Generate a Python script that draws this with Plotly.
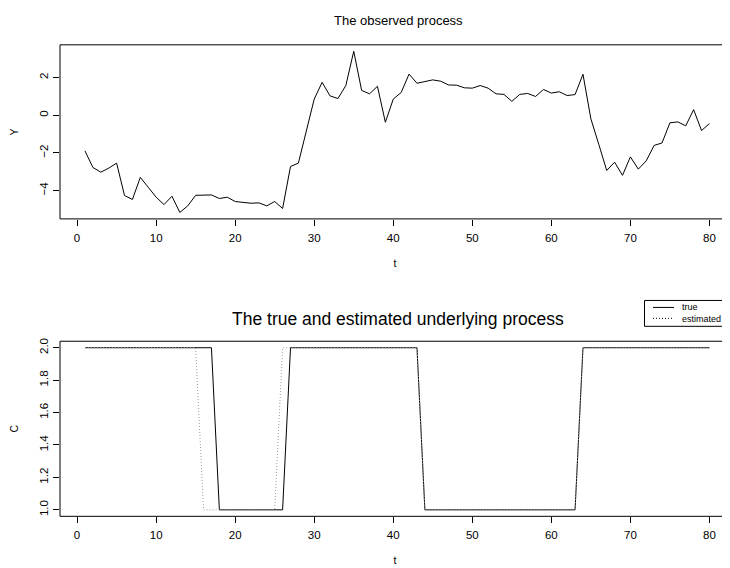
import plotly.graph_objects as go

# ---- data ----
t = list(range(1, 81))
Y_obs = [-1.89, -2.77, -3.02, -2.81, -2.54, -4.26, -4.47, -3.30, -3.82, -4.35,
         -4.74, -4.30, -5.16, -4.81, -4.25, -4.25, -4.23, -4.42, -4.35, -4.58,
         -4.63, -4.67, -4.65, -4.81, -4.58, -4.95, -2.72, -2.54, -0.84, 0.86,
         1.75, 1.03, 0.89, 1.58, 3.40, 1.32, 1.14, 1.54, -0.37, 0.86,
         1.21, 2.19, 1.70, 1.81, 1.88, 1.81, 1.61, 1.60, 1.46, 1.44,
         1.58, 1.44, 1.14, 1.11, 0.74, 1.11, 1.16, 1.00, 1.37, 1.18,
         1.25, 1.05, 1.10, 2.18, -0.19, -1.54, -2.93, -2.49, -3.19, -2.21,
         -2.86, -2.42, -1.60, -1.47, -0.40, -0.35, -0.56, 0.30, -0.81, -0.44]
C_true = [2, 2, 2, 2, 2, 2, 2, 2, 2, 2,
          2, 2, 2, 2, 2, 2, 2, 1, 1, 1,
          1, 1, 1, 1, 1, 1, 2, 2, 2, 2,
          2, 2, 2, 2, 2, 2, 2, 2, 2, 2,
          2, 2, 2, 1, 1, 1, 1, 1, 1, 1,
          1, 1, 1, 1, 1, 1, 1, 1, 1, 1,
          1, 1, 1, 2, 2, 2, 2, 2, 2, 2,
          2, 2, 2, 2, 2, 2, 2, 2, 2, 2]
C_est = [2, 2, 2, 2, 2, 2, 2, 2, 2, 2,
         2, 2, 2, 2, 2, 1, 1, 1, 1, 1,
         1, 1, 1, 1, 1, 2, 2, 2, 2, 2,
         2, 2, 2, 2, 2, 2, 2, 2, 2, 2,
         2, 2, 2, 1, 1, 1, 1, 1, 1, 1,
         1, 1, 1, 1, 1, 1, 1, 1, 1, 1,
         1, 1, 1, 2, 2, 2, 2, 2, 2, 2,
         2, 2, 2, 2, 2, 2, 2, 2, 2, 2]
x_ticks = [0, 10, 20, 30, 40, 50, 60, 70, 80]
y1_ticks = [-4, -2, 0, 2]
y2_ticks = [1.0, 1.2, 1.4, 1.6, 1.8, 2.0]
titles = ["The observed process", "The true and estimated underlying process"]
legend_labels = ["true", "estimated"]

W, H = 730, 568
OFF = 8  # the page body margin shifts the figure by 8px
FONT = "Liberation Sans, Arial, sans-serif"


def px(x):
    return (x - OFF) / W


def py(y):
    return 1 - (y - OFF) / H


def rrange(vals):
    lo, hi = min(vals), max(vals)
    d = (hi - lo) * 0.04
    return [lo - d, hi + d]


fig = go.Figure()
fig.add_trace(go.Scatter(x=t, y=Y_obs, mode="lines", line=dict(color="black", width=1),
                         xaxis="x", yaxis="y", showlegend=False))
fig.add_trace(go.Scatter(x=t, y=C_true, mode="lines", line=dict(color="black", width=1),
                         xaxis="x2", yaxis="y2", showlegend=False, name="true"))
fig.add_trace(go.Scatter(x=t, y=C_est, mode="lines",
                         line=dict(color="#9a9a9a", width=1, dash="1px,2px"),
                         xaxis="x2", yaxis="y2", showlegend=False, name="estimated"))

xr = [-2.16, 82.6]
top_dom = [py(217), py(42)]
bot_dom = [py(516), py(340)]

common_x = dict(range=xr, tickvals=x_ticks, ticks="outside", ticklen=6, tickcolor="black",
                showline=False, showgrid=False, zeroline=False, ticklabelstandoff=2,
                tickfont=dict(family=FONT, size=11.5, color="black"),
                domain=[px(60), px(730)])
common_y = dict(ticks="outside", ticklen=6, tickcolor="black", tickangle=-90,
                showline=False, showgrid=False, zeroline=False,
                tickfont=dict(family=FONT, size=11.5, color="black"))

fig.update_layout(
    width=W, height=H,
    margin=dict(l=0, r=0, t=0, b=0),
    paper_bgcolor="white", plot_bgcolor="white",
    font=dict(family=FONT, color="black"),
    showlegend=False,
    xaxis=dict(**common_x, anchor="y",
               title=dict(text="t", font=dict(family=FONT, size=10.5), standoff=16)),
    yaxis=dict(**common_y, anchor="x", domain=top_dom, range=rrange(Y_obs), tickvals=y1_ticks,
               title=dict(text="Y", font=dict(family=FONT, size=10.5), standoff=19)),
    xaxis2=dict(**common_x, anchor="y2",
                title=dict(text="t", font=dict(family=FONT, size=10.5), standoff=16)),
    yaxis2=dict(**common_y, anchor="x2", domain=bot_dom, range=rrange(C_true),
                tickvals=y2_ticks, tickformat=".1f",
                title=dict(text="C", font=dict(family=FONT, size=10.5), standoff=19)),
)

shapes = []
for dom in (top_dom, bot_dom):
    shapes.append(dict(type="rect", xref="paper", yref="paper", x0=px(60), x1=px(770),
                       y0=dom[0], y1=dom[1], line=dict(color="black", width=1)))
# legend box
shapes.append(dict(type="rect", xref="paper", yref="paper", x0=px(644.5), x1=px(770),
                   y0=py(325), y1=py(299), line=dict(color="black", width=1)))
shapes.append(dict(type="line", xref="paper", yref="paper", x0=px(653), x1=px(674),
                   y0=py(306), y1=py(306), line=dict(color="black", width=1)))
shapes.append(dict(type="line", xref="paper", yref="paper", x0=px(653), x1=px(674),
                   y0=py(317), y1=py(317), line=dict(color="black", width=1, dash="1px,2px")))
fig.update_layout(shapes=shapes)

annotations = [
    dict(text=titles[0], x=px(398), y=py(18), xref="paper", yref="paper", showarrow=False,
         xanchor="center", yanchor="middle", font=dict(family=FONT, size=13)),
    dict(text=titles[1], x=px(398), y=py(318), xref="paper", yref="paper", showarrow=False,
         xanchor="center", yanchor="middle", font=dict(family=FONT, size=17.5)),
    dict(text="<br>".join(legend_labels), x=px(680), y=py(311.5), xref="paper", yref="paper",
         showarrow=False, align="left", xanchor="left", yanchor="middle",
         font=dict(family=FONT, size=9)),
]
fig.update_layout(annotations=annotations)

fig.write_html("out.html")
